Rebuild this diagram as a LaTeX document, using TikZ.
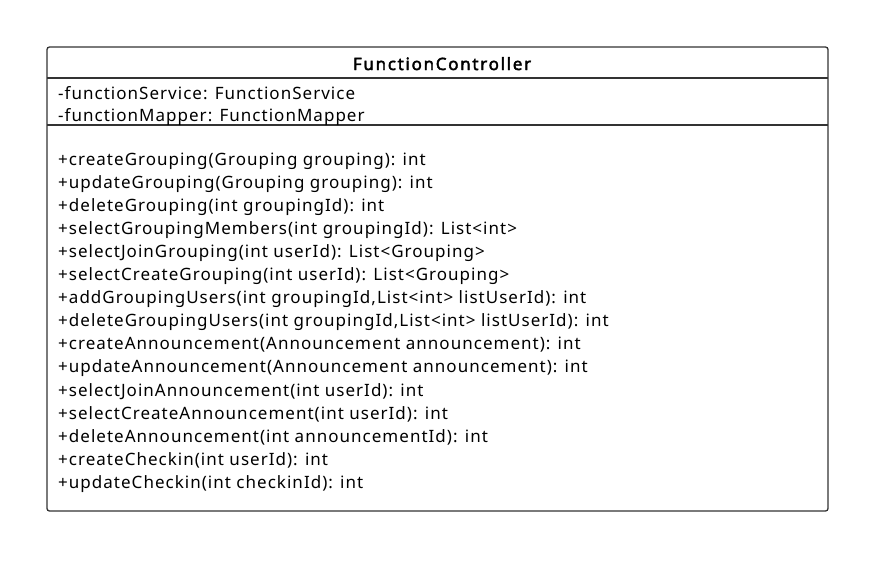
\documentclass[tikz,border=0pt]{standalone}
\usepackage{fontspec}
\setmainfont{Noto Sans}[LetterSpace=6,AutoFakeBold=2.5]
\definecolor{umlline}{HTML}{333333}
\tikzset{member/.style={anchor=base west,inner sep=0pt}}
\begin{document}
\begin{tikzpicture}[x=1pt,y=-1pt,font=\fontsize{17}{18}\selectfont]
    \useasboundingbox (0,0) rectangle (890,574);
    \draw[umlline,line width=1.3pt,rounded corners=2.5pt] (47,47) rectangle (828,511);
    \draw[umlline,line width=1.3pt] (47,78)--(828,78);
    \draw[umlline,line width=1.3pt] (47,125)--(828,125);
    \node[anchor=base,inner sep=0pt] (title) at (442,70) {\addfontfeatures{LetterSpace=10}\bfseries FunctionController};
    \node[member] (attr1) at (58,99) {-functionService: FunctionService};
    \node[member] (attr2) at (58,121) {-functionMapper: FunctionMapper};
    \foreach \m [count=\i from 0] in {
        {+createGrouping(Grouping grouping): int},
        {+updateGrouping(Grouping grouping): int},
        {+deleteGrouping(int groupingId): int},
        {+selectGroupingMembers(int groupingId): List<int>},
        {+selectJoinGrouping(int userId): List<Grouping>},
        {+selectCreateGrouping(int userId): List<Grouping>},
        {+addGroupingUsers(int groupingId,List<int> listUserId): int},
        {+deleteGroupingUsers(int groupingId,List<int> listUserId): int},
        {+createAnnouncement(Announcement announcement): int},
        {+updateAnnouncement(Announcement announcement): int},
        {+selectJoinAnnouncement(int userId): int},
        {+selectCreateAnnouncement(int userId): int},
        {+deleteAnnouncement(int announcementId): int},
        {+createCheckin(int userId): int},
        {+updateCheckin(int checkinId): int}}
        \node[member] (op\i) at (58,165+23.1*\i) {\m};
\end{tikzpicture}
\end{document}
